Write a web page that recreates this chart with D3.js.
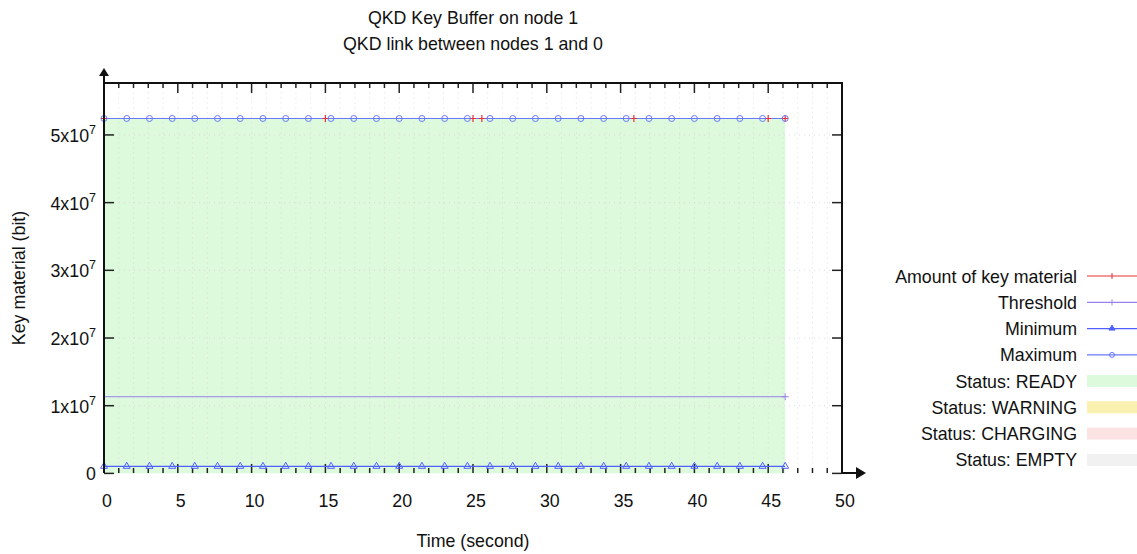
<!DOCTYPE html>
<html>
<head>
  <meta charset="UTF-8">
  <style>
    body { margin: 0; background: #fff; }
    svg { font-family: "Liberation Sans", Arial, sans-serif; }
  </style>
</head>
<body>
<svg></svg>
<script src="https://d3js.org/d3.v7.min.js"></script>
<script>

// ---- data ----
const sampleTimes = [0, 1.54, 3.08, 4.62, 6.15, 7.69, 9.23, 10.77, 12.31, 13.85, 15.38, 16.92, 18.46, 20.0, 21.54, 23.08,
    24.62, 26.15, 27.69, 29.23, 30.77, 32.31, 33.85, 35.38, 36.92, 38.46, 40.0, 41.54, 43.08, 44.62, 46.15];
const maximumValues = [52428800, 52428800, 52428800, 52428800, 52428800, 52428800, 52428800, 52428800, 52428800, 52428800,
    52428800, 52428800, 52428800, 52428800, 52428800, 52428800, 52428800, 52428800, 52428800, 52428800, 52428800,
    52428800, 52428800, 52428800, 52428800, 52428800, 52428800, 52428800, 52428800, 52428800, 52428800];
const minimumValues = [1048576, 1048576, 1048576, 1048576, 1048576, 1048576, 1048576, 1048576, 1048576, 1048576,
    1048576, 1048576, 1048576, 1048576, 1048576, 1048576, 1048576, 1048576, 1048576, 1048576, 1048576,
    1048576, 1048576, 1048576, 1048576, 1048576, 1048576, 1048576, 1048576, 1048576, 1048576];

const keyTimes = [0, 15.0, 25.0, 25.6, 35.9, 45.0, 46.15];
const keyValues = [52428800, 52428800, 52428800, 52428800, 52428800, 52428800, 52428800];

const thresholdTimes = [0, 46.15];
const thresholdValues = [11324620, 11324620];

const statusStart = [0];
const statusEnd = [46.15];
const statusName = ["READY"];

const xTicks = [0, 5, 10, 15, 20, 25, 30, 35, 40, 45, 50];
const yTicks = [0, 1e7, 2e7, 3e7, 4e7, 5e7];

const legendLines = ["Amount of key material", "Threshold", "Minimum", "Maximum"];
const legendStatus = ["READY", "WARNING", "CHARGING", "EMPTY"];
const statusColor = {"READY": "#ddfadd", "WARNING": "#faf0b0", "CHARGING": "#fbe3e3", "EMPTY": "#f1f1f1"};

let width = 1137, height = 554;
let fs = 17.8;
let svg = d3.select("svg").attr("width", width).attr("height", height);

let x = d3.scaleLinear().domain([0, 50]).range([104, 842]);
let y = d3.scaleLinear().domain([0, 57671680]).range([473.4, 83]);

// status background
svg.append("g").selectAll("rect")
    .data(statusStart)
    .enter().append("rect")
    .attr("x", (d, i) => x(d))
    .attr("width", (d, i) => x(statusEnd[i]) - x(d))
    .attr("y", y(52428800))
    .attr("height", y(0) - y(52428800))
    .attr("fill", (d, i) => statusColor[statusName[i]]);

// grid
let grid = svg.append("g").attr("stroke", "#d4d4d4").attr("stroke-width", 0.8).attr("stroke-dasharray", "1,4");
grid.selectAll("line.gx").data(d3.range(1, 50)).enter().append("line")
    .attr("x1", d => x(d)).attr("x2", d => x(d)).attr("y1", y.range()[0]).attr("y2", y.range()[1]);
grid.selectAll("line.gy").data(yTicks.slice(1)).enter().append("line")
    .attr("x1", 104).attr("x2", 842).attr("y1", d => y(d)).attr("y2", d => y(d));

// ticks (bottom + mirrored top, left + mirrored right)
let ticks = svg.append("g").attr("stroke", "#222").attr("stroke-width", 1.5);
let minor = d3.range(0, 51);
ticks.selectAll("line.b").data(minor).enter().append("line")
    .attr("x1", d => x(d)).attr("x2", d => x(d))
    .attr("y1", 473).attr("y2", d => d % 5 === 0 ? 464 : 468);
ticks.selectAll("line.t").data(minor).enter().append("line")
    .attr("x1", d => x(d)).attr("x2", d => x(d))
    .attr("y1", 83).attr("y2", d => d % 5 === 0 ? 93 : 88);
ticks.selectAll("line.l").data(yTicks).enter().append("line")
    .attr("x1", 104).attr("x2", 114).attr("y1", d => y(d)).attr("y2", d => y(d));
ticks.selectAll("line.r").data(yTicks).enter().append("line")
    .attr("x1", 842).attr("x2", 832).attr("y1", d => y(d)).attr("y2", d => y(d));

// lines
let line = d3.line().x(d => x(d[0])).y(d => y(d[1]));
let zip = (a, b) => a.map((t, i) => [t, b[i]]);

svg.append("path").datum(zip(keyTimes, keyValues))
    .attr("d", line).attr("fill", "none").attr("stroke", "#e8303a").attr("stroke-width", 1);
svg.append("path").datum(zip(thresholdTimes, thresholdValues))
    .attr("d", line).attr("fill", "none").attr("stroke", "#9a80e8").attr("stroke-width", 1);
svg.append("path").datum(zip(sampleTimes, minimumValues))
    .attr("d", line).attr("fill", "none").attr("stroke", "#5060ff").attr("stroke-width", 1.2);
svg.append("path").datum(zip(sampleTimes, maximumValues))
    .attr("d", line).attr("fill", "none").attr("stroke", "#6a78ff").attr("stroke-width", 1.2);

// markers
svg.append("g").selectAll("path").data(zip(keyTimes, keyValues)).enter().append("path")
    .attr("d", d => "M" + x(d[0]) + "," + (y(d[1]) - 3.5) + "v7M" + (x(d[0]) - 3) + "," + y(d[1]) + "h6")
    .attr("stroke", "#e8303a").attr("stroke-width", 1.2);
svg.append("g").selectAll("path").data(zip(thresholdTimes, thresholdValues).slice(1)).enter().append("path")
    .attr("d", d => "M" + x(d[0]) + "," + (y(d[1]) - 3.5) + "v7M" + (x(d[0]) - 3.5) + "," + y(d[1]) + "h7")
    .attr("stroke", "#9a80e8").attr("stroke-width", 1);
svg.append("g").selectAll("path").data(zip(sampleTimes, minimumValues)).enter().append("path")
    .attr("d", d => "M" + x(d[0]) + "," + (y(d[1]) - 4) + "l3.5,6h-7z")
    .attr("fill", "none").attr("stroke", "#5060ff").attr("stroke-width", 1);
svg.append("g").selectAll("circle").data(zip(sampleTimes, maximumValues)).enter().append("circle")
    .attr("cx", d => x(d[0])).attr("cy", d => y(d[1])).attr("r", 3)
    .attr("fill", "none").attr("stroke", "#6a78ff").attr("stroke-width", 1);

// border + axes
svg.append("path").attr("d", "M104,83H842V473")
    .attr("fill", "none").attr("stroke", "#111").attr("stroke-width", 2);
svg.append("path").attr("d", "M104,473V76M842,473H856")
    .attr("fill", "none").attr("stroke", "#111").attr("stroke-width", 2);
svg.append("path").attr("d", "M99,76L104,68L109,76Z").attr("fill", "#111");
svg.append("path").attr("d", "M856,467L866,473L856,479Z").attr("fill", "#111");

// tick labels
svg.append("g").selectAll("text").data(xTicks).enter().append("text")
    .attr("x", d => x(d) + 3).attr("y", 507)
    .attr("text-anchor", "middle").attr("font-size", fs).attr("fill", "#111")
    .text(d => d);
let yl = svg.append("g").selectAll("text").data(yTicks).enter().append("text")
    .attr("x", 96).attr("y", d => y(d) + 7)
    .attr("text-anchor", "end").attr("font-size", fs).attr("fill", "#111");
yl.each(function(d) {
    let t = d3.select(this);
    if (d === 0) { t.text("0"); return; }
    t.append("tspan").text((d / 1e7) + "x10");
    t.append("tspan").attr("dy", -8).attr("font-size", 12.5).text("7");
});

// titles
svg.append("text").attr("x", 473).attr("y", 24).attr("text-anchor", "middle")
    .attr("font-size", fs).attr("fill", "#111").text("QKD Key Buffer on node 1");
svg.append("text").attr("x", 473).attr("y", 50).attr("text-anchor", "middle")
    .attr("font-size", fs).attr("fill", "#111").text("QKD link between nodes 1 and 0");
svg.append("text").attr("x", 473).attr("y", 547).attr("text-anchor", "middle")
    .attr("font-size", fs).attr("fill", "#111").text("Time (second)");
svg.append("text").attr("transform", "translate(25,278) rotate(-90)").attr("text-anchor", "middle")
    .attr("font-size", fs).attr("fill", "#111").text("Key material (bit)");

// legend
let legColor = ["#e8303a", "#9a80e8", "#5060ff", "#6a78ff"];
let leg = svg.append("g");
legendLines.forEach((name, i) => {
    let yy = 276 + i * 26.3;
    leg.append("text").attr("x", 1077).attr("y", yy + 6.5).attr("text-anchor", "end")
        .attr("font-size", fs).attr("fill", "#111").text(name);
    leg.append("line").attr("x1", 1087).attr("x2", 1137).attr("y1", yy).attr("y2", yy)
        .attr("stroke", legColor[i]).attr("stroke-width", 1.2);
    let cx = 1112;
    if (i < 2) leg.append("path").attr("d", "M" + cx + "," + (yy - 3) + "v6").attr("stroke", legColor[i]);
    else if (i === 2) leg.append("path").attr("d", "M" + cx + "," + (yy - 3.5) + "l3,5h-6z").attr("fill", legColor[i]).attr("stroke", legColor[i]);
    else leg.append("circle").attr("cx", cx).attr("cy", yy).attr("r", 2.5).attr("fill", "none").attr("stroke", legColor[i]);
});
legendStatus.forEach((s, i) => {
    let yy = 381 + i * 26.3;
    leg.append("text").attr("x", 1077).attr("y", yy + 6.5).attr("text-anchor", "end")
        .attr("font-size", fs).attr("fill", "#111").text("Status: " + s);
    leg.append("rect").attr("x", 1087).attr("y", yy - 6).attr("width", 50).attr("height", 12)
        .attr("fill", statusColor[s]);
});

</script>
</body>
</html>
